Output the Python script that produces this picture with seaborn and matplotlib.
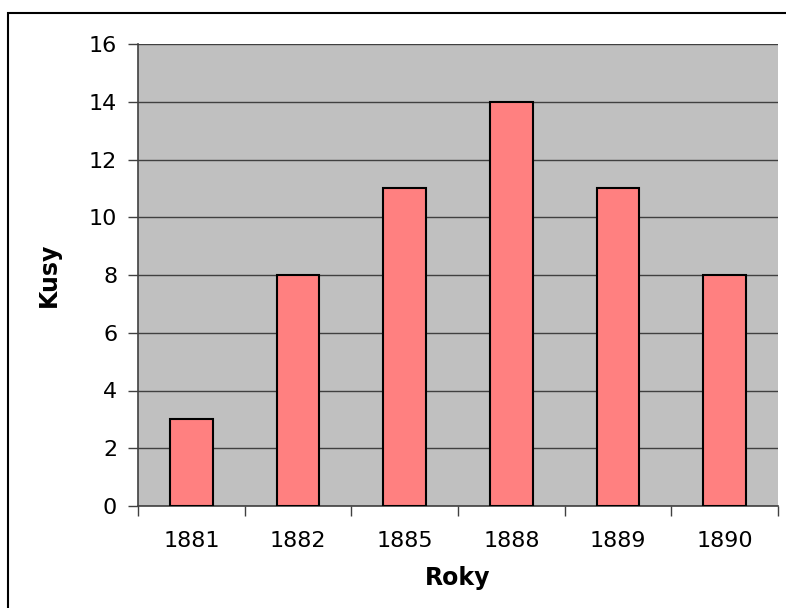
import matplotlib
matplotlib.use("Agg")
import matplotlib.pyplot as plt
import matplotlib.patches as patches
import seaborn as sns
import pandas as pd

# data
years = ["1881", "1882", "1885", "1888", "1889", "1890"]
counts = [3, 8, 11, 14, 11, 8]

sns.set_style("white")
plt.rcParams["font.family"] = ["DejaVu Sans"]
plt.rcParams["text.color"] = "black"
plt.rcParams["xtick.color"] = "#404040"
plt.rcParams["ytick.color"] = "#404040"
plt.rcParams["xtick.labelcolor"] = "black"
plt.rcParams["ytick.labelcolor"] = "black"
plt.rcParams["axes.labelcolor"] = "black"

df = pd.DataFrame({"Roky": years, "Kusy": counts})

fig = plt.figure(figsize=(7.86, 6.08), dpi=100)
ax = fig.add_axes([138 / 786, 102 / 608, 640 / 786, 462 / 608])
ax.set_facecolor("#C0C0C0")

sns.barplot(data=df, x="Roky", y="Kusy", color="#FF8080", width=0.4,
            edgecolor="black", linewidth=1.5, saturation=1, ax=ax, zorder=3)

ax.set_ylim(0, 16)
ax.set_xlim(-0.5, len(years) - 0.5)
ax.set_yticks(range(0, 17, 2))
ax.yaxis.grid(True, color="#404040", linewidth=1)
ax.set_axisbelow(True)

# x ticks sit between categories, labels centered under bars
ax.set_xticks([i - 0.5 for i in range(len(years) + 1)], minor=True)
ax.tick_params(axis="x", which="minor", bottom=True, length=7, width=1)
ax.tick_params(axis="x", which="major", length=0, pad=18, labelsize=16)
ax.tick_params(axis="y", left=True, length=7, width=1, pad=8, labelsize=16)

for s in ["top", "right"]:
    ax.spines[s].set_visible(False)
for s in ["left", "bottom"]:
    ax.spines[s].set_color("#404040")
    ax.spines[s].set_linewidth(1.2)

ax.set_xlabel("Roky", fontsize=17, fontweight="bold", va="center")
ax.set_ylabel("Kusy", fontsize=17, fontweight="bold", va="center")
ax.xaxis.set_label_coords(0.5, (506 - 578) / 462)
ax.yaxis.set_label_coords((48.5 - 138) / 640, 0.5)

# outer chart border (only left/top visible in the original)
fig.patches.append(patches.Rectangle((8 / 786, -0.1), 1.1, 1.1 - 13 / 608,
                                     transform=fig.transFigure, fill=False,
                                     edgecolor="black", linewidth=1.5))

fig.savefig("out.png", dpi=100)
